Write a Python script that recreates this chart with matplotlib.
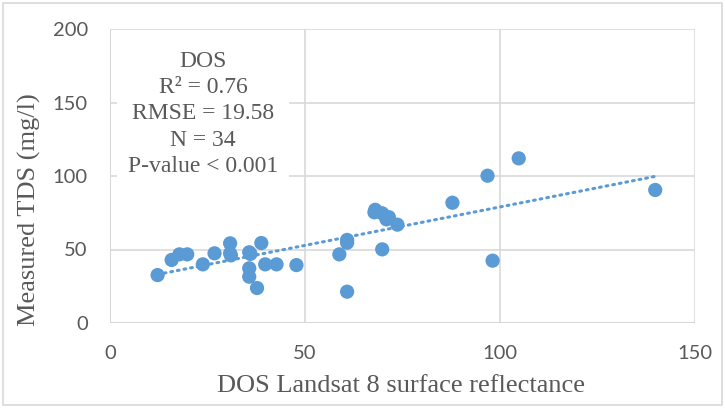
import numpy as np
import matplotlib
matplotlib.use("Agg")
import matplotlib.pyplot as plt
from matplotlib.patches import Rectangle

# DOS surface reflectance vs measured TDS
dos_x = [12.2, 15.8, 17.8, 19.8, 23.8, 26.8, 30.8, 30.8, 31.0, 35.7,
         35.7, 35.7, 36.0, 37.7, 38.8, 39.8, 42.7, 47.8, 58.8, 60.8,
         60.8, 60.8, 69.8, 67.8, 68.0, 69.8, 70.9, 71.5, 73.7, 87.8,
         96.8, 98.1, 104.8, 139.8]
tds_y = [32.6, 42.9, 46.7, 46.7, 39.9, 47.4, 54.2, 47.4, 46.0, 48.1,
         37.2, 31.5, 47.0, 23.8, 54.4, 39.9, 39.9, 39.4, 46.7, 56.5,
         54.6, 21.3, 50.1, 75.3, 77.0, 74.6, 70.5, 72.0, 66.9, 81.8,
         100.2, 42.4, 112.0, 90.5]

stats_lines = ["DOS", "R² = 0.76", "RMSE = 19.58", "N = 34", "P-value < 0.001"]

blue = "#5B9BD5"
grid_c = "#D9D9D9"
txt_c = "#595959"

fig = plt.figure(figsize=(7.25, 4.08), dpi=100)
ax = fig.add_axes([110/725, 85/408, 585/725, 294/408])

ax.scatter(dos_x, tds_y, s=105, color=blue, edgecolors="none", zorder=3)

# linear trend line
k, b = np.polyfit(dos_x, tds_y, 1)
xs = np.array([min(dos_x), max(dos_x)])
ax.plot(xs, k * xs + b, color=blue, lw=2.2, ls=(0, (0.6, 1.6)),
        dash_capstyle="round", zorder=2)

ax.set_xlim(0, 150)
ax.set_ylim(0, 200)
ax.set_xticks([0, 50, 100, 150])
ax.set_yticks([0, 50, 100, 150, 200])
ax.grid(True, color=grid_c, lw=1.2, zorder=0)
for s in ax.spines.values():
    s.set_visible(False)
ax.axvline(0, color="#BFBFBF", lw=1.2, zorder=1)
ax.axhline(0, color="#BFBFBF", lw=1.2, zorder=1)
ax.tick_params(axis="y", length=0, pad=16, labelsize=14.5, labelcolor=txt_c)
ax.tick_params(axis="x", length=0, pad=16, labelsize=14.5, labelcolor=txt_c)
for lab in ax.get_xticklabels() + ax.get_yticklabels():
    lab.set_family("Lato")

fig.text(401/725, 1 - 386/408, "DOS Landsat 8 surface reflectance",
         family="Liberation Serif", fontsize=19, color=txt_c,
         ha="center", va="center")
fig.text(29/725, 1 - 210/408, "Measured TDS (mg/l)", rotation=90,
         family="Liberation Serif", fontsize=19, color=txt_c,
         ha="center", va="center")

# stats box covering the grid
ax.text(0.159, 0.711, "\n".join(stats_lines), transform=ax.transAxes,
        ha="center", va="center", family="Liberation Serif", fontsize=17,
        color=txt_c, linespacing=1.33, zorder=4,
        bbox=dict(facecolor="white", edgecolor="none", pad=8))

fig.patches.append(Rectangle((0.004, 0.007), 0.992, 0.986, transform=fig.transFigure,
                             fill=False, edgecolor="#D9D9D9", lw=1.2))

fig.savefig("out.png", dpi=100)
